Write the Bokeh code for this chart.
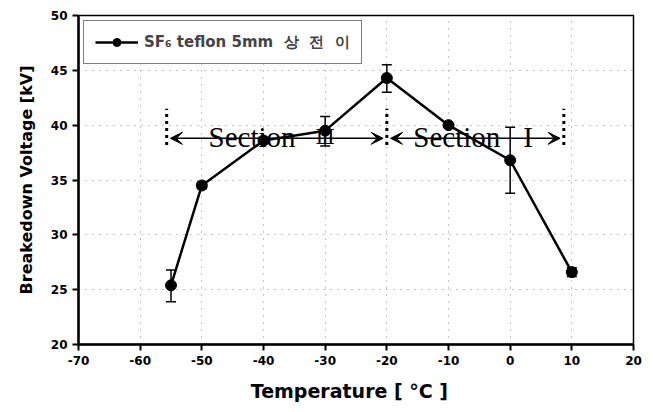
from bokeh.plotting import figure
from bokeh.models import ColumnDataSource, Whisker, Arrow, VeeHead, Label, Legend, LegendItem, FixedTicker, Range1d, TeeHead
from bokeh.embed import file_html
from bokeh.resources import INLINE

# data
temps = [-55, -50, -40, -30, -20, -10, 0, 10]
voltage = [25.4, 34.5, 38.6, 39.5, 44.3, 40.0, 36.8, 26.6]
err_upper = [26.8, 34.8, 38.9, 40.8, 45.5, 40.2, 39.8, 27.0]
err_lower = [23.9, 34.2, 38.3, 38.1, 43.0, 39.8, 33.8, 26.2]
x_ticks = [-70, -60, -50, -40, -30, -20, -10, 0, 10, 20]
y_ticks = [20, 25, 30, 35, 40, 45, 50]
section_bounds = [-55.7, -20.0, 8.7]
section_arrow_y = 38.8
section_mark_top = 41.5
section_mark_bottom = 38.2
section_word_x = [-48.9, -15.7]
section_numerals = ["Ⅲ", "I"]
section_numeral_x = [-30.0, 2.9]
section_label_y = 38.95

p = figure(width=645, height=404, output_backend="svg", toolbar_location=None,
           x_range=Range1d(-70, 20), y_range=Range1d(20, 50),
           min_border_left=78, min_border_right=12, min_border_top=15, min_border_bottom=55)
p.background_fill_color = "white"
p.border_fill_color = "white"
p.outline_line_color = "black"
p.outline_line_width = 1.5

src = ColumnDataSource(dict(x=temps, y=voltage, up=err_upper, lo=err_lower))

# grids
for g in (p.xgrid, p.ygrid):
    g.grid_line_color = "#888888"
    g.grid_line_dash = "1 6"
    g.grid_line_width = 1
p.xaxis.ticker = FixedTicker(ticks=x_ticks)
p.yaxis.ticker = FixedTicker(ticks=y_ticks)
p.xaxis.major_label_overrides = {t: str(t) for t in x_ticks}
p.yaxis.major_label_overrides = {t: str(t) for t in y_ticks}

for ax in (p.xaxis[0], p.yaxis[0]):
    ax.axis_line_width = 2.5
    ax.axis_line_color = "black"
    ax.major_tick_line_width = 2
    ax.major_tick_out = 6
    ax.major_tick_in = 0
    ax.minor_tick_line_color = None
    ax.major_label_text_font = "DejaVu Sans"
    ax.major_label_text_font_style = "bold"
    ax.major_label_text_font_size = "12px"
    ax.major_label_text_color = "black"
    ax.axis_label_text_font = "DejaVu Sans"
    ax.axis_label_text_font_style = "bold"
    ax.axis_label_text_color = "black"

p.xaxis.axis_label = "Temperature   [ °C ]"
p.xaxis.axis_label_text_font_size = "19px"
p.xaxis.axis_label_standoff = 12
p.yaxis.axis_label = "Breakedown Voltage [kV]"
p.yaxis.axis_label_text_font_size = "16px"
p.yaxis.axis_label_standoff = 12

# section markers
for b in section_bounds:
    p.segment(x0=[b], y0=[section_mark_bottom], x1=[b], y1=[section_mark_top],
              line_color="black", line_width=3, line_dash="3 4")
for i in range(2):
    p.add_layout(Arrow(x_start=section_bounds[i] + 0.6, y_start=section_arrow_y,
                       x_end=section_bounds[i + 1] - 0.6, y_end=section_arrow_y,
                       line_color="black", line_width=1.5,
                       start=VeeHead(size=12, fill_color="black", line_color="black"),
                       end=VeeHead(size=12, fill_color="black", line_color="black")))
    p.add_layout(Label(x=section_word_x[i], y=section_label_y, text="Section",
                       text_font="Liberation Serif", text_font_size="29px",
                       text_align="left", text_baseline="alphabetic", text_color="black"))
    p.add_layout(Label(x=section_numeral_x[i], y=section_label_y, text=section_numerals[i],
                       text_font="DejaVu Serif" if i == 0 else "Liberation Serif",
                       text_font_size="20px" if i == 0 else "29px",
                       text_align="center", text_baseline="alphabetic", text_color="black"))

# error bars
p.add_layout(Whisker(source=src, base="x", upper="up", lower="lo", line_width=1.5,
                     line_color="black",
                     upper_head=TeeHead(size=10, line_width=1.5, line_color="black"),
                     lower_head=TeeHead(size=10, line_width=1.5, line_color="black")))

ln = p.line("x", "y", source=src, line_color="black", line_width=2.5)
sc = p.scatter("x", "y", source=src, size=11, fill_color="black", line_color="black")

legend = Legend(items=[LegendItem(label="SF₆ teflon 5mm  상  전  이", renderers=[ln, sc])],
                location="top_left")
legend.label_text_font = "DejaVu Sans"
legend.label_text_font_style = "bold"
legend.label_text_font_size = "15px"
legend.border_line_color = "black"
legend.border_line_width = 1.5
legend.glyph_width = 43
legend.padding = 11
legend.margin = 5
legend.label_standoff = 6
legend.label_width = 205
p.add_layout(legend)

open("out.html", "w").write(file_html(p, INLINE))
